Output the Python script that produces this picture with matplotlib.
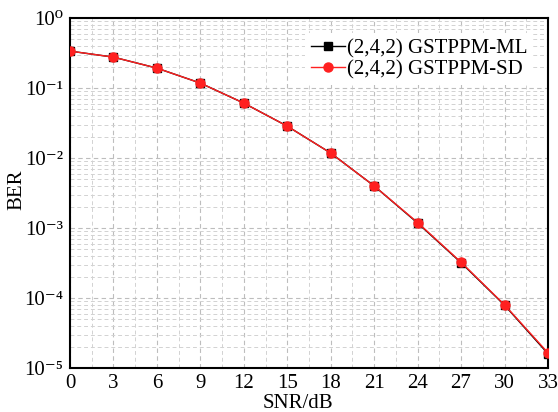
import numpy as np
import matplotlib.pyplot as plt
from matplotlib.ticker import LogLocator, MultipleLocator, NullFormatter, FuncFormatter

plt.rcParams['font.family'] = ['Liberation Serif', 'DejaVu Serif']

snr = [0, 3, 6, 9, 12, 15, 18, 21, 24, 27, 30, 33]
ber_ml = [0.338, 0.277, 0.193, 0.118, 0.061, 0.0286, 0.0118, 0.0040, 1.18e-3, 3.2e-4, 7.9e-5, 1.6e-5]
ber_sd = [0.338, 0.277, 0.193, 0.118, 0.061, 0.0286, 0.0118, 0.0040, 1.2e-3, 3.25e-4, 8.0e-5, 1.65e-5]

sup = str.maketrans('-0123456789', '⁻⁰¹²³⁴⁵⁶⁷⁸⁹')


def pow10(v, pos):
    return '10' + str(int(round(np.log10(v)))).translate(sup)


fig = plt.figure(figsize=(5.58, 4.12), dpi=100)
ax = fig.add_axes([0.1254, 0.1068, 0.8566, 0.8492])

ax.semilogy(snr, ber_ml, color='black', marker='s', markersize=6, linewidth=1,
            label='(2,4,2) GSTPPM-ML', zorder=3)
ax.semilogy(snr, ber_sd, color='#ff2020', marker='o', markersize=6.5, linewidth=1,
            label='(2,4,2) GSTPPM-SD', zorder=4)

ax.set_xlim(0, 33)
ax.set_ylim(1e-5, 1)
ax.xaxis.set_major_locator(MultipleLocator(3))
ax.xaxis.set_minor_locator(MultipleLocator(1.5))
ax.yaxis.set_major_locator(LogLocator(base=10, numticks=10))
ax.yaxis.set_minor_locator(LogLocator(base=10, subs=np.arange(2, 10), numticks=10))
ax.yaxis.set_major_formatter(FuncFormatter(pow10))
ax.yaxis.set_minor_formatter(NullFormatter())

ax.grid(True, which='major', linestyle=(0, (4, 3)), color='#bdbdbd', linewidth=0.8)
ax.grid(True, which='minor', linestyle=(0, (4, 3)), color='#d2d2d2', linewidth=0.7)
ax.tick_params(which='both', length=0, labelsize=15)
ax.tick_params(axis='x', pad=4)
ax.tick_params(axis='y', pad=5)
for s in ax.spines.values():
    s.set_linewidth(1.5)

ax.set_xlabel('SNR/dB', fontsize=15)
ax.set_ylabel('BER', fontsize=15)
ax.xaxis.set_label_coords(0.477, -0.074)
ax.yaxis.set_label_coords(-0.092, 0.509)

leg = ax.legend(loc='upper right', fontsize=15, frameon=True, fancybox=False,
                edgecolor='none', framealpha=1, handlelength=1.6, handletextpad=0.1,
                borderaxespad=0.7, labelspacing=0.05, borderpad=0.3)

fig.savefig('out.png', dpi=100)
